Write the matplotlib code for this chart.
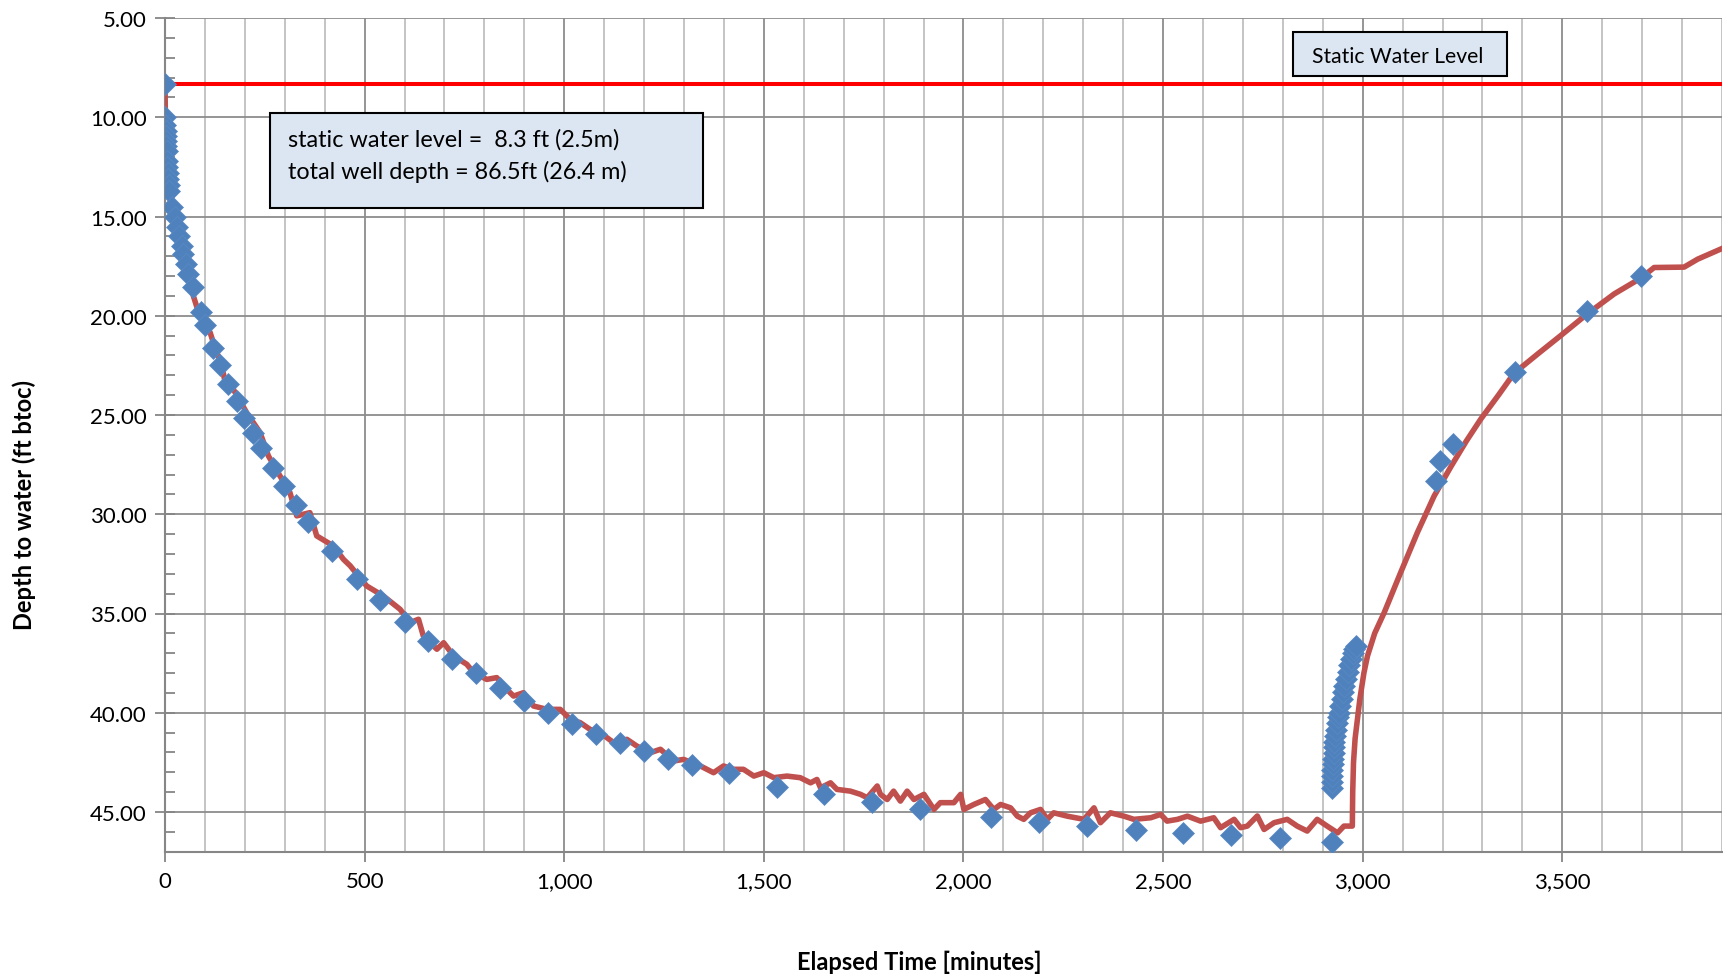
import matplotlib
matplotlib.use("Agg")
import matplotlib.pyplot as plt
from matplotlib.patches import Rectangle
from matplotlib.ticker import MultipleLocator, FuncFormatter

plt.rcParams['font.family'] = ['Lato', 'DejaVu Sans']

# continuous transducer record (minutes, ft btoc)
logger_t = [0, 1, 2, 3, 5, 7, 10, 17, 25, 29, 36, 42, 46, 53, 58, 71, 84, 99, 113, 121,
            142, 150, 171, 205, 238, 259, 288, 313, 330, 363, 380, 422, 447, 464, 505, 547,
            589, 614, 635, 647, 681, 698, 723, 756, 773, 806, 831, 856, 873, 898, 923, 957,
            990, 1015, 1040, 1065, 1090, 1124, 1157, 1182, 1216, 1241, 1274, 1299, 1341,
            1374, 1399, 1424, 1449, 1475, 1500, 1525, 1558, 1591, 1617, 1633, 1642, 1667,
            1683, 1717, 1742, 1759, 1784, 1792, 1809, 1825, 1842, 1859, 1876, 1901, 1926,
            1942, 1976, 1993, 2001, 2026, 2055, 2076, 2093, 2118, 2135, 2151, 2168, 2193,
            2210, 2226, 2260, 2302, 2327, 2343, 2368, 2402, 2427, 2469, 2494, 2510, 2536,
            2561, 2594, 2627, 2644, 2678, 2694, 2711, 2736, 2753, 2778, 2811, 2836, 2861,
            2886, 2911, 2937, 2953, 2974, 2975, 2977, 2981, 2987, 2993, 3003, 3012, 3030,
            3054, 3095, 3137, 3179, 3221, 3260, 3296, 3340, 3379, 3440, 3496, 3563, 3630,
            3697, 3730, 3805, 3839, 3906]
logger_d = [8.3, 10.0, 10.8, 11.4, 12.2, 12.9, 13.7, 14.55, 15.1, 15.5, 16.0, 16.5, 16.9,
            17.4, 17.9, 19.0, 19.83, 20.5, 20.84, 21.35, 22.52, 23.28, 23.7, 24.9, 25.88,
            27.06, 28.07, 28.91, 30.08, 29.92, 31.09, 31.6, 32.27, 32.6, 33.61, 34.12,
            34.79, 35.46, 35.29, 36.13, 36.8, 36.47, 37.14, 37.56, 37.98, 38.32, 38.23,
            38.82, 39.16, 38.99, 39.66, 39.83, 39.83, 40.33, 40.5, 40.84, 41.0, 41.51,
            41.34, 41.68, 42.01, 41.84, 42.43, 42.35, 42.68, 43.02, 42.68, 42.85, 42.85,
            43.19, 43.02, 43.27, 43.19, 43.27, 43.53, 43.36, 43.78, 43.53, 43.86, 43.95,
            44.11, 44.28, 43.69, 44.11, 44.37, 43.95, 44.45, 43.95, 44.37, 44.11, 44.87,
            44.53, 44.53, 44.11, 44.87, 44.62, 44.37, 44.87, 44.62, 44.79, 45.21, 45.37,
            45.04, 44.87, 45.37, 45.04, 45.21, 45.37, 44.79, 45.54, 45.04, 45.21, 45.37,
            45.29, 45.12, 45.46, 45.37, 45.21, 45.46, 45.29, 45.79, 45.37, 45.79, 45.71,
            45.2, 45.88, 45.54, 45.37, 45.71, 45.96, 45.37, 45.71, 46.05, 45.71, 45.71,
            44.0, 42.5, 41.3, 40.3, 39.3, 38.0, 37.14, 36.0, 34.95, 32.94, 30.92, 29.08,
            27.6, 26.3, 25.2, 24.0, 22.9, 21.9, 21.0, 19.9, 18.9, 18.1, 17.57, 17.55,
            17.15, 16.56]

# manual tape readings
manual_t = [0, 1, 1, 2, 2, 3, 3, 4, 5, 6, 7, 8, 9, 10, 17, 25, 29, 36, 42, 46, 53, 58, 69,
            89, 99, 119, 138, 159, 180, 199, 220, 241, 270, 299, 328, 359, 418, 480, 539,
            601, 660, 718, 779, 840, 900, 959, 1019, 1079, 1139, 1199, 1259, 1320, 1412,
            1532, 1650, 1771, 1890, 2069, 2190, 2310, 2431, 2551, 2671, 2792, 2924,
            2922, 2922, 2923, 2924, 2925, 2926, 2927, 2928, 2929, 2930, 2932, 2935, 2938,
            2941, 2944, 2948, 2951, 2953, 2957, 2962, 2966, 2970, 2975, 2979, 2983,
            3183, 3194, 3225, 3381, 3561, 3697]
manual_d = [8.3, 10.0, 10.4, 10.7, 10.95, 11.2, 11.45, 11.7, 12.2, 12.5, 12.8, 13.1, 13.4,
            13.7, 14.54, 15.05, 15.55, 16.0, 16.48, 16.9, 17.4, 17.9, 18.54, 19.83, 20.47,
            21.6, 22.5, 23.45, 24.3, 25.13, 25.9, 26.64, 27.65, 28.6, 29.55, 30.39, 31.85,
            33.24, 34.3, 35.43, 36.38, 37.27, 38.0, 38.73, 39.4, 40.0, 40.55, 41.05, 41.5,
            41.93, 42.31, 42.65, 43.05, 43.72, 44.11, 44.5, 44.87, 45.24, 45.5, 45.71,
            45.93, 46.05, 46.16, 46.33, 46.52,
            43.8, 43.5, 43.2, 42.9, 42.6, 42.35, 42.05, 41.75, 41.45, 41.15, 40.85, 40.5,
            40.2, 40.0, 39.65, 39.3, 38.95, 38.65, 38.3, 37.95, 37.6, 37.3, 37.0, 36.8,
            36.64,
            28.32, 27.31, 26.47, 22.83, 19.75, 17.99]

static_level = 8.3

fig = plt.figure(figsize=(17.24, 9.79), dpi=100)
ax = fig.add_axes([165 / 1724, 1 - 852.7 / 979, (1722 - 165) / 1724, (852.7 - 19) / 979])

ax.plot(logger_t, logger_d, color='#C0504D', lw=4, zorder=3,
        solid_joinstyle='round', solid_capstyle='round')
ax.plot(manual_t, manual_d, ls='none', marker='D', ms=11, color='#4F81BD',
        mec='#5A8AC6', mew=0.5, zorder=4)
ax.hlines(static_level, 0, 3950, color='#FF0000', lw=2.9, zorder=3)

ax.set_xlim(0, 3900)
ax.set_ylim(47, 5)

ax.xaxis.set_major_locator(MultipleLocator(500))
ax.xaxis.set_minor_locator(MultipleLocator(100))
ax.yaxis.set_major_locator(MultipleLocator(5))
ax.yaxis.set_minor_locator(MultipleLocator(1))
ax.xaxis.set_major_formatter(FuncFormatter(lambda v, p: f'{v:,.0f}'))
ax.yaxis.set_major_formatter(FuncFormatter(lambda v, p: f'{v:.2f}'))

ax.grid(which='major', color='#8C8C8C', lw=1.3)
ax.grid(which='minor', axis='x', color='#BFBFBF', lw=1.3)
ax.set_axisbelow(True)

for s in ['top', 'right']:
    ax.spines[s].set_visible(False)
for s in ['left', 'bottom']:
    ax.spines[s].set_color('#868686')
    ax.spines[s].set_linewidth(1.5)

ax.tick_params(axis='y', which='major', direction='inout', length=14, width=1.3,
               color='#868686', labelsize=16, pad=6)
ax.tick_params(axis='y', which='minor', direction='in', length=7, width=1.3, color='#868686')
ax.tick_params(axis='x', which='major', direction='out', length=7, width=1.3,
               color='#868686', labelsize=16, pad=7)
ax.tick_params(axis='x', which='minor', length=0)

fig.text(24 / 1724, 1 - 505 / 979, 'Depth to water (ft btoc)', rotation=90,
         ha='center', va='center', fontsize=17, fontweight='bold')
fig.text(919 / 1724, 1 - 962 / 979, 'Elapsed Time [minutes]',
         ha='center', va='center', fontsize=17, fontweight='bold')

# note boxes
fig.patches.append(Rectangle((270 / 1724, 1 - 209 / 979), 433 / 1724, 95 / 979,
                             transform=fig.transFigure, facecolor='#DCE6F2',
                             edgecolor='black', lw=1.5, zorder=5))
fig.text(288 / 1724, 1 - 140 / 979, 'static water level =  8.3 ft (2.5m)',
         fontsize=16.8, va='center', zorder=6)
fig.text(288 / 1724, 1 - 171.5 / 979, 'total well depth = 86.5ft (26.4 m)',
         fontsize=16.8, va='center', zorder=6)

fig.patches.append(Rectangle((1293 / 1724, 1 - 77 / 979), 214 / 1724, 44 / 979,
                             transform=fig.transFigure, facecolor='#DCE6F2',
                             edgecolor='black', lw=1.5, zorder=5))
fig.text(1312 / 1724, 1 - 57 / 979, 'Static Water Level', fontsize=15.2, va='center', zorder=6)

fig.savefig('out.png', dpi=100)
